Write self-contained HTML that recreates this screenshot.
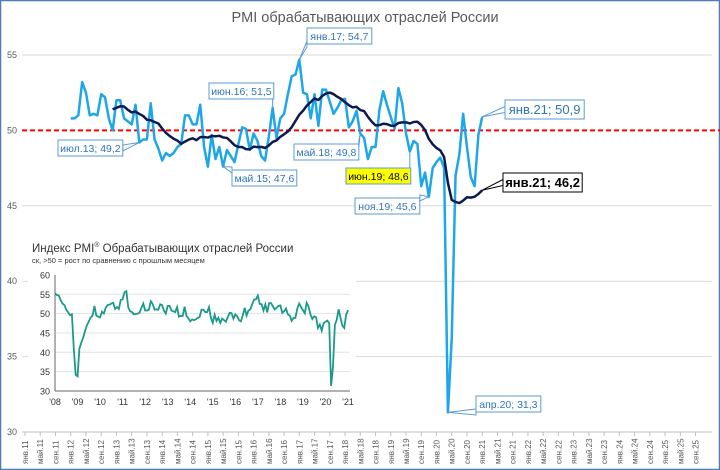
<!DOCTYPE html>
<html><head><meta charset="utf-8"><style>
body{margin:0;background:#fff}
svg{display:block;font-family:"Liberation Sans","Noto Sans CJK SC",sans-serif}
</style></head><body>
<svg id="c" width="720" height="470">
<rect x="0.5" y="0.5" width="719" height="469" fill="#fff" stroke="#4a7ebb" stroke-width="1.5"/>
<text x="365" y="22" text-anchor="middle" font-size="14.5" fill="#595959">PMI обрабатывающих  отраслей России</text>
<g id="grid"></g><g id="inset"></g><g id="series"></g><g id="labels"></g>
</svg>
<script>
// Main chart data (monthly, starting Jan 2012)
const startIndex = 12; // months after Jan 2011
const pmi = [50.8,50.8,51.0,53.2,52.5,51.0,51.1,51.0,52.4,52.2,50.8,50.0,
 52.0,52.0,50.8,50.6,50.4,51.7,49.2,49.4,49.4,51.8,49.4,48.8,
 48.0,48.5,48.3,48.5,48.9,49.1,51.0,51.0,50.4,50.4,51.7,48.9,
 47.6,49.7,48.1,48.9,47.6,48.7,48.3,47.9,49.1,50.2,50.1,48.7,
 49.8,49.3,48.3,48.0,49.6,51.5,49.5,50.8,51.1,52.4,53.6,53.7,
 54.7,52.5,52.4,50.8,52.4,50.3,52.7,52.7,51.9,51.1,51.5,52.0,
 52.1,50.2,50.6,51.3,49.8,49.5,48.1,48.9,48.9,51.3,52.6,51.7,
 50.9,50.1,52.8,51.8,49.8,48.6,49.3,49.1,46.3,47.2,45.6,47.5,
 47.9,48.2,47.5,31.3,36.2,47.0,48.4,51.1,48.9,46.9,46.3,49.7,50.9];
const yTicks = [30,35,40,45,50,55];
const monthNames = ["янв","май","сен"];
const labelYears = [11,12,13,14,15,16,17,18,19,20,21,22,23,24,25];
// Callouts: [series, index into series, text, boxX, boxY, style]
const callouts = [
 ["pmi",18,"июл.13; 49,2",58,140,"b"],
 ["pmi",40,"май.15; 47,6",232,170,"b"],
 ["pmi",53,"июн.16; 51,5",209,83,"b"],
 ["pmi",60,"янв.17; 54,7",307,28,"b"],
 ["pmi",76,"май.18; 49,8",294,144,"b"],
 ["pmi",89,"июн.19; 48,6",346,168,"y"],
 ["pmi",94,"ноя.19; 45,6",355,198,"b"],
 ["pmi",99,"апр.20; 31,3",476,396,"b"],
 ["pmi",108,"янв.21; 50,9",505,100,"B"],
 ["ma",108,"янв.21; 46,2",503,173,"K"]];
// Inset data (2008–2011, then same series)
const inset0811 = [55.2,54.8,54.7,53.5,52.6,52.2,51.0,50.3,49.6,49.8,41.0,34.2,
 33.8,41.0,42.5,43.8,45.5,47.0,48.0,49.0,49.5,52.0,49.5,49.2,
 49.0,50.5,50.0,51.5,52.2,52.3,52.6,52.8,51.2,51.7,51.2,53.5,
 53.7,55.5,55.8,51.6,50.6,50.4,49.8,49.9,50.0,50.2,51.5,52.6];
const insetTicks = [30,35,40,45,50,55,60];
const insetYears = ["'08","'09","'10","'11","'12","'13","'14","'15","'16","'17","'18","'19","'20","'21"];

const NS="http://www.w3.org/2000/svg";
function mk(tag,attrs,parent,txt){const e=document.createElementNS(NS,tag);for(const k in attrs)e.setAttribute(k,attrs[k]);if(txt!==undefined)e.textContent=txt;parent.appendChild(e);return e;}
const xM=i=>25+i*3.81, yM=v=>432-(v-30)*15.08;
const xI=i=>55+i*(293/156), yI=v=>391-(v-30)*3.87;
const grid=document.getElementById('grid'),ser=document.getElementById('series'),lab=document.getElementById('labels'),ins=document.getElementById('inset');

// moving average (12 month)
const ma=pmi.map((v,i)=>{if(i<11)return null;let s=0;for(let k=i-11;k<=i;k++)s+=pmi[k];return s/12;});

yTicks.forEach(t=>{
 if(t!==50){const l=mk('line',{x1:22,x2:712,y1:yM(t),y2:yM(t),stroke:'#d9d9d9','stroke-width':1},grid);
 }
 const tx=mk('text',{x:12,y:yM(t)+3,'font-size':9,fill:'#595959','text-anchor':'middle'},grid,String(t));
 
});
const ax=mk('line',{x1:22,x2:712,y1:432,y2:432,stroke:'#bfbfbf'},grid);

labelYears.forEach(y=>monthNames.forEach((m,j)=>{
 const i=(y-11)*12+j*4, x=xM(i);
 mk('line',{x1:x,x2:x,y1:432,y2:436,stroke:'#bfbfbf'},grid);
 const t=mk('text',{transform:`translate(${x+3},464) rotate(-90)`,'font-size':8,fill:'#595959'},grid,m+'.'+y);
 
}));

// inset
const ib=mk('rect',{x:28,y:238,width:328,height:176,fill:'#fff'},ins);

const it=mk('text',{x:32,y:252,'font-size':11.5,fill:'#333'},ins);

it.innerHTML='Индекс PMI<tspan font-size="7" dy="-5">®</tspan><tspan dy="5"> Обрабатывающих отраслей России</tspan>';
const is=mk('text',{x:32,y:263,'font-size':7.5,fill:'#333'},ins,'ск, >50 = рост по сравнению с прошлым месяцем');

insetTicks.forEach(t=>{
 if(t>30&&t<60)mk('line',{x1:56,x2:350,y1:yI(t),y2:yI(t),stroke:'#e3e3e3'},ins);
 const tx=mk('text',{x:50,y:yI(t)+3.5,'font-size':9,fill:'#333','text-anchor':'end'},ins,String(t));
 
});
mk('line',{x1:55,x2:55,y1:yI(60),y2:yI(30),stroke:'#666'},ins);
mk('line',{x1:55,x2:350,y1:yI(30),y2:yI(30),stroke:'#666'},ins);
insetYears.forEach((y,k)=>{
 const tx=mk('text',{x:xI(k*12),y:405,'font-size':9,fill:'#333','text-anchor':'middle'},ins,y);
 
});
const insetData=inset0811.concat(pmi);
const ip=mk('polyline',{points:insetData.map((v,i)=>xI(i)+','+yI(v)).join(' '),fill:'none',stroke:'#1b9a8c','stroke-width':1.8},ins);


// reference line 50
const rl=mk('line',{x1:22,x2:720,y1:yM(50),y2:yM(50),stroke:'#ff0000','stroke-width':2,'stroke-dasharray':'5,3'},ser);

const pl=mk('polyline',{points:pmi.map((v,i)=>xM(i+startIndex)+','+yM(v)).join(' '),fill:'none',stroke:'#1ea7e8','stroke-width':2.5,'stroke-linejoin':'round'},ser);

const mp=ma.map((v,i)=>v===null?null:xM(i+startIndex)+','+yM(v)).filter(p=>p).join(' ');
const ml=mk('polyline',{points:mp,fill:'none',stroke:'#0d1a4f','stroke-width':2.5,'stroke-linejoin':'round'},ser);


// callouts
callouts.forEach(c=>{
 const arr=c[0]==='pmi'?pmi:ma, v=arr[c[1]], px=xM(c[1]+startIndex), py=yM(v);
 const big=c[5]==='B'||c[5]==='K', fs=big?13:10.5, w=c[2].length*(big?6.1:4.9)+6, h=big?19:16;
 const bx=c[3], by=c[4];
 const g=mk('g',{},lab);
 
 
 const stroke=c[5]==='K'?'#000':'#5b9bd5', fill=c[5]==='y'?'#ffff00':'#fff', col=(c[5]==='y'||c[5]==='K')?'#000':'#2e75b6';
 const cx=Math.max(bx,Math.min(bx+w,px)), cy=py<by?by:(py>by+h?by+h:by+h/2);
 const ax2=px<bx?bx:(px>bx+w?bx+w:cx);
 mk('polygon',{points:`${px},${py} ${ax2},${cy-3} ${ax2},${cy+3}`,fill:fill,stroke:stroke,'stroke-width':1},g);
 mk('rect',{x:bx,y:by,width:w,height:h,fill:fill,stroke:stroke,'stroke-width':1},g);
 mk('text',{x:bx+w/2,y:by+h/2+fs*0.36,'font-size':fs,fill:col,'text-anchor':'middle','font-weight':c[5]==='K'?'bold':'normal'},g,c[2]);
});
</script>
</body></html>
